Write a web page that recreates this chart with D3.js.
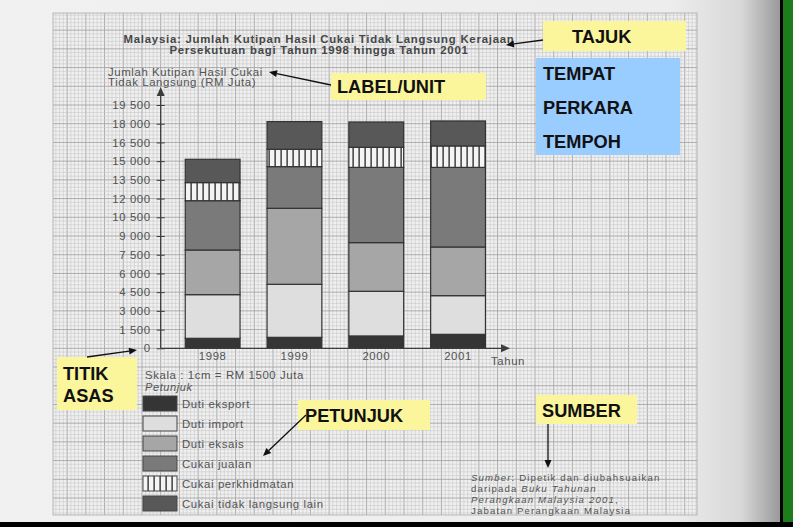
<!DOCTYPE html>
<html><head><meta charset="utf-8">
<script src="https://cdn.jsdelivr.net/npm/d3@7"></script>
<style>html,body{margin:0;padding:0;background:#000;}svg{display:block;}</style>
</head><body>
<svg id="c" width="793" height="527"></svg>
<script>
// ---- data ----
const years = ["1998", "1999", "2000", "2001"];
const seriesNames = ["Duti eksport", "Duti import", "Duti eksais", "Cukai jualan", "Cukai perkhidmatan", "Cukai tidak langsung lain"];
const dutiEksport = [800, 880, 990, 1120];
const dutiImport = [3500, 4250, 3580, 3100];
const dutiEksais = [3580, 6090, 3900, 3900];
const cukaiJualan = [3950, 3340, 6030, 6380];
const cukaiPerkhidmatan = [1450, 1390, 1610, 1720];
const cukaiLain = [1870, 2220, 2030, 2000];
const yTicks = [0, 1500, 3000, 4500, 6000, 7500, 9000, 10500, 12000, 13500, 15000, 16500, 18000, 19500];
const titleLines = ["Malaysia: Jumlah Kutipan Hasil Cukai Tidak Langsung Kerajaan", "Persekutuan bagi Tahun 1998 hingga Tahun 2001"];
const yLabelLines = ["Jumlah Kutipan Hasil Cukai", "Tidak Langsung (RM Juta)"];
const sumberLines = [
  [["Sumber", true], [": Dipetik dan diubahsuaikan", false]],
  [["daripada ", false], ["Buku Tahunan", true]],
  [["Perangkaan Malaysia 2001", true], [",", false]],
  [["Jabatan Perangkaan Malaysia", false]]
];

const table = years.map((y, i) => ({
  year: y,
  "Duti eksport": dutiEksport[i], "Duti import": dutiImport[i], "Duti eksais": dutiEksais[i],
  "Cukai jualan": cukaiJualan[i], "Cukai perkhidmatan": cukaiPerkhidmatan[i], "Cukai tidak langsung lain": cukaiLain[i]
}));

const svg = d3.select("#c");
const W = 793, H = 527;
const font = "Liberation Sans, Arial, sans-serif";
const ink = "#3c3c3c";
const txt = "#545454";
const FS = 11.4, LS = 0.6; // scanned small text

// ---- page background ----
const defs = svg.append("defs");
const pg = defs.append("linearGradient").attr("id", "pg").attr("x1", "0").attr("x2", "1");
pg.append("stop").attr("offset", "0").attr("stop-color", "#f1f1f1");
pg.append("stop").attr("offset", "0.86").attr("stop-color", "#ededed");
pg.append("stop").attr("offset", "0.95").attr("stop-color", "#d8d8d8");
pg.append("stop").attr("offset", "1").attr("stop-color", "#9a9a9a");
svg.append("rect").attr("width", W).attr("height", H).attr("fill", "#000");
svg.append("rect").attr("x", 0).attr("y", 0).attr("width", 780).attr("height", 522).attr("fill", "url(#pg)");
svg.append("rect").attr("x", 783).attr("y", 0).attr("width", 10).attr("height", 522).attr("fill", "#1d7d1d");

// stripe pattern
const pat = defs.append("pattern").attr("id", "stripes").attr("patternUnits", "userSpaceOnUse")
  .attr("width", 6).attr("height", 10);
pat.append("rect").attr("width", 6).attr("height", 10).attr("fill", "#f4f4f4");
pat.append("rect").attr("x", 4.3).attr("width", 1.7).attr("height", 10).attr("fill", "#555");

// ---- scales ----
const y = d3.scaleLinear().domain([0, 19500]).range([348.3, 105]);
const x = d3.scaleBand().domain(years).range([160.7, 510]).paddingInner(0.33).paddingOuter(0.3);
const axisX = 160.7, axisY = y(0);
const unit = (y(0) - y(1500)); // 1 cm

// ---- grid paper ----
const gx0 = 53, gx1 = 697, gy0 = 13, gy1 = 515;
svg.append("rect").attr("x", gx0).attr("y", gy0).attr("width", gx1 - gx0).attr("height", gy1 - gy0).attr("fill", "#f0f0f0");
const grid = svg.append("g");
const minor = unit / 5;
let startX = axisX - Math.floor((axisX - gx0) / minor) * minor;
for (let gxv = startX; gxv <= gx1; gxv += minor) {
  const idx = Math.round((gxv - axisX) / minor);
  const major = idx % 5 === 0;
  grid.append("line").attr("x1", gxv).attr("x2", gxv).attr("y1", gy0).attr("y2", gy1)
    .attr("stroke", major ? "#a5a5a5" : "#c8c8c8").attr("stroke-width", major ? 0.9 : 0.6);
}
let startY = axisY - Math.floor((axisY - gy0) / minor) * minor;
for (let gyv = startY; gyv <= gy1; gyv += minor) {
  const idx = Math.round((gyv - axisY) / minor);
  const major = idx % 5 === 0;
  grid.append("line").attr("x1", gx0).attr("x2", gx1).attr("y1", gyv).attr("y2", gyv)
    .attr("stroke", major ? "#a5a5a5" : "#c8c8c8").attr("stroke-width", major ? 0.9 : 0.6);
}
grid.append("rect").attr("x", gx0).attr("y", gy0).attr("width", gx1 - gx0).attr("height", gy1 - gy0)
  .attr("fill", "none").attr("stroke", "#aaa").attr("stroke-width", 0.8);

// ---- title ----
svg.append("g").selectAll("text").data(titleLines).join("text")
  .attr("x", 319).attr("y", (d, i) => 43 + i * 10.5).attr("text-anchor", "middle")
  .attr("font-family", font).attr("font-weight", "bold").attr("font-size", 11.4)
  .attr("letter-spacing", 0.75).attr("fill", "#474747")
  .text(d => d);

// y label
svg.append("g").selectAll("text").data(yLabelLines).join("text")
  .attr("x", 108).attr("y", (d, i) => 75.5 + i * 10.5)
  .attr("font-family", font).attr("font-size", FS).attr("letter-spacing", LS)
  .attr("fill", txt).text(d => d);

// ---- stacked bars ----
const colors = {
  "Duti eksport": "#353535", "Duti import": "#dedede", "Duti eksais": "#a6a6a6",
  "Cukai jualan": "#7a7a7a", "Cukai perkhidmatan": "url(#stripes)", "Cukai tidak langsung lain": "#585858"
};
const stack = d3.stack().keys(seriesNames)(table);
const bars = svg.append("g");
stack.forEach(layer => {
  bars.append("g").selectAll("rect").data(layer).join("rect")
    .attr("x", d => x(d.data.year)).attr("width", x.bandwidth())
    .attr("y", d => y(d[1])).attr("height", d => y(d[0]) - y(d[1]))
    .attr("fill", colors[layer.key]).attr("stroke", "#333").attr("stroke-width", 1.2);
});

// ---- axes ----
const yAxis = svg.append("g").attr("transform", `translate(${axisX},0)`)
  .call(d3.axisLeft(y).tickValues(yTicks).tickSize(0).tickPadding(10)
    .tickFormat(d => d3.format(",")(d).replace(",", " ")));
yAxis.select(".domain").remove();
yAxis.selectAll("text").attr("font-family", font).attr("font-size", FS)
  .attr("letter-spacing", LS).attr("fill", txt);
yAxis.selectAll(".tick").append("line").attr("x1", -4).attr("x2", 4).attr("stroke", ink).attr("stroke-width", 1);

const axg = svg.append("g").attr("stroke", ink).attr("fill", ink);
axg.append("line").attr("x1", axisX).attr("x2", axisX).attr("y1", axisY).attr("y2", 92).attr("stroke-width", 1.3);
axg.append("path").attr("d", `M${axisX},87 L${axisX - 4},96 L${axisX + 4},96 Z`).attr("stroke", "none");
axg.append("line").attr("x1", axisX).attr("x2", 505).attr("y1", axisY).attr("y2", axisY).attr("stroke-width", 1.3);
axg.append("path").attr("d", `M510,${axisY} L501,${axisY - 4} L501,${axisY + 4} Z`).attr("stroke", "none");

const xAxis = svg.append("g").attr("transform", `translate(0,${axisY})`)
  .call(d3.axisBottom(x).tickSize(0).tickPadding(4));
xAxis.select(".domain").remove();
xAxis.selectAll("text").attr("font-family", font).attr("font-size", FS)
  .attr("letter-spacing", LS).attr("fill", txt);
svg.append("text").attr("x", 491).attr("y", 365).attr("font-family", font).attr("font-size", FS)
  .attr("letter-spacing", LS).attr("fill", txt).text("Tahun");

// ---- scale + legend ----
svg.append("text").attr("x", 145).attr("y", 379).attr("font-family", font).attr("font-size", FS)
  .attr("letter-spacing", LS).attr("fill", txt).text("Skala : 1cm = RM 1500 Juta");
svg.append("text").attr("x", 145).attr("y", 391).attr("font-family", font).attr("font-size", 11)
  .attr("letter-spacing", LS).attr("font-style", "italic").attr("fill", txt).text("Petunjuk");
const leg = svg.append("g").selectAll("g").data(seriesNames).join("g")
  .attr("transform", (d, i) => `translate(143,${396 + i * 20})`);
leg.append("rect").attr("width", 34).attr("height", 15).attr("fill", d => colors[d])
  .attr("stroke", "#444").attr("stroke-width", 1);
leg.append("text").attr("x", 39).attr("y", 11.5).attr("font-family", font).attr("font-size", FS)
  .attr("letter-spacing", LS).attr("fill", txt).text(d => d);

// ---- sumber ----
const sg = svg.append("g");
sumberLines.forEach((parts, i) => {
  const t = sg.append("text").attr("x", 471).attr("y", 481 + i * 10.9)
    .attr("font-family", font).attr("font-size", 9.6).attr("letter-spacing", 1.15).attr("fill", txt);
  parts.forEach(p => t.append("tspan").attr("font-style", p[1] ? "italic" : "normal").text(p[0]));
});

// ---- annotation boxes ----
const ann = svg.append("g");
function box(x0, y0, w, h, fill) {
  ann.append("rect").attr("x", x0).attr("y", y0).attr("width", w).attr("height", h).attr("fill", fill);
}
function label(t, x0, y0) {
  ann.append("text").attr("x", x0).attr("y", y0).attr("font-family", font).attr("font-weight", "bold")
    .attr("font-size", 18.2).attr("fill", "#111").text(t);
}
function arrow(x1, y1, x2, y2) {
  const a = Math.atan2(y2 - y1, x2 - x1), L = 8, s = 3.5;
  const bx = x2 - L * Math.cos(a), by = y2 - L * Math.sin(a);
  ann.append("line").attr("x1", x1).attr("y1", y1).attr("x2", bx).attr("y2", by)
    .attr("stroke", "#111").attr("stroke-width", 1.3);
  ann.append("path").attr("d", `M${x2},${y2} L${bx - s * Math.sin(a)},${by + s * Math.cos(a)} L${bx + s * Math.sin(a)},${by - s * Math.cos(a)} Z`)
    .attr("fill", "#111");
}
const yellow = "#fbf59c", blue = "#99ccff";
box(543, 21, 143, 30, yellow); label("TAJUK", 572, 43);
arrow(543, 40, 506, 45);
box(536, 58, 144, 97, blue);
label("TEMPAT", 543, 80); label("PERKARA", 543, 114); label("TEMPOH", 543, 148);
box(331, 73, 155, 27, yellow); label("LABEL/UNIT", 337, 93);
arrow(331, 85, 269, 72);
box(57, 357, 80, 53, yellow); label("TITIK", 63, 380); label("ASAS", 63, 402);
arrow(87, 357, 137, 350);
box(298, 400, 132, 30, yellow); label("PETUNJUK", 305, 422);
arrow(306, 415, 263, 456);
box(536, 395, 101, 29, yellow); label("SUMBER", 542, 417);
arrow(548, 424, 548, 468);
</script>
</body></html>
